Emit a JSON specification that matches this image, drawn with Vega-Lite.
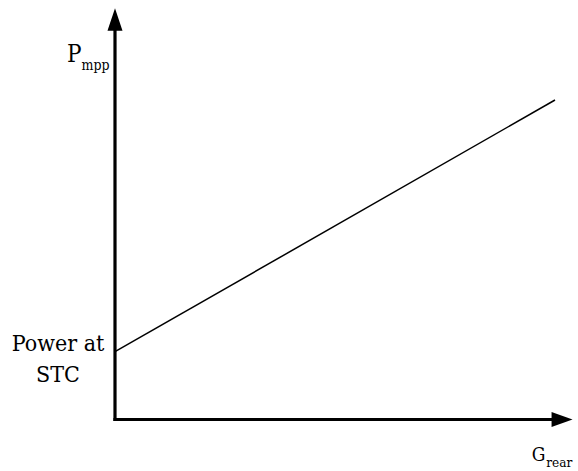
{
  "$schema": "https://vega.github.io/schema/vega-lite/v6.json",
  "width": 578,
  "height": 471,
  "padding": 0,
  "autosize": "none",
  "config": {"view": {"stroke": null}, "text": {"font": "DejaVu Serif Condensed", "color": "black", "baseline": "alphabetic"}},
  "datasets": {
    "curve": [
      {"g": 0, "p": 20},
      {"g": 100, "p": 94.25}
    ],
    "axes": [
      {"axis": "P", "g": 0, "p": 0, "g2": 0, "p2": 115.5},
      {"axis": "G", "g": 0, "p": 0, "g2": 99.5, "p2": 0}
    ],
    "headY": [{"g": 0, "p": 118.0}],
    "headX": [{"g": 101.6, "p": 0}]
  },
  "encoding": {
    "x": {"type": "quantitative", "scale": {"domain": [-26.136, 105.227], "nice": false, "zero": false}, "axis": null},
    "y": {"type": "quantitative", "scale": {"domain": [-15.19, 123.75], "nice": false, "zero": false}, "axis": null}
  },
  "layer": [
    {
      "data": {"name": "axes"},
      "mark": {"type": "rule", "color": "black", "strokeWidth": 3.2, "strokeCap": "square"},
      "encoding": {
        "x": {"field": "g", "type": "quantitative"},
        "y": {"field": "p", "type": "quantitative"},
        "x2": {"field": "g2"},
        "y2": {"field": "p2"}
      }
    },
    {
      "data": {"name": "headY"},
      "mark": {"type": "point", "shape": "M0,-1L0.67,1L-0.67,1Z", "size": 502, "filled": true, "color": "black", "opacity": 1, "strokeWidth": 0},
      "encoding": {
        "x": {"field": "g", "type": "quantitative"},
        "y": {"field": "p", "type": "quantitative"}
      }
    },
    {
      "data": {"name": "headX"},
      "mark": {"type": "point", "shape": "M1,0L-1,-0.71L-1,0.71Z", "size": 441, "filled": true, "color": "black", "opacity": 1, "strokeWidth": 0},
      "encoding": {
        "x": {"field": "g", "type": "quantitative"},
        "y": {"field": "p", "type": "quantitative"}
      }
    },
    {
      "data": {"name": "curve"},
      "mark": {"type": "line", "color": "black", "strokeWidth": 1.5},
      "encoding": {
        "x": {"field": "g", "type": "quantitative"},
        "y": {"field": "p", "type": "quantitative"}
      }
    },
    {
      "data": {"values": [{"t": "P", "g": -10.9, "p": 105.55}]},
      "mark": {"type": "text", "fontSize": 24, "align": "left"},
      "encoding": {
        "x": {"field": "g", "type": "quantitative"},
        "y": {"field": "p", "type": "quantitative"},
        "text": {"field": "t"}
      }
    },
    {
      "data": {"values": [{"t": "mpp", "g": -7.6, "p": 103.1}]},
      "mark": {"type": "text", "fontSize": 14, "align": "left"},
      "encoding": {
        "x": {"field": "g", "type": "quantitative"},
        "y": {"field": "p", "type": "quantitative"},
        "text": {"field": "t"}
      }
    },
    {
      "data": {"values": [
        {"t": "Power at", "g": -12.95, "p": 20.2},
        {"t": "STC", "g": -12.95, "p": 11.1}
      ]},
      "mark": {"type": "text", "fontSize": 23, "align": "center"},
      "encoding": {
        "x": {"field": "g", "type": "quantitative"},
        "y": {"field": "p", "type": "quantitative"},
        "text": {"field": "t"}
      }
    },
    {
      "data": {"values": [{"t": "G", "g": 94.7, "p": -12.3}]},
      "mark": {"type": "text", "fontSize": 19, "align": "left"},
      "encoding": {
        "x": {"field": "g", "type": "quantitative"},
        "y": {"field": "p", "type": "quantitative"},
        "text": {"field": "t"}
      }
    },
    {
      "data": {"values": [{"t": "rear", "g": 98.0, "p": -14.0}]},
      "mark": {"type": "text", "fontSize": 13.5, "align": "left"},
      "encoding": {
        "x": {"field": "g", "type": "quantitative"},
        "y": {"field": "p", "type": "quantitative"},
        "text": {"field": "t"}
      }
    }
  ]
}
